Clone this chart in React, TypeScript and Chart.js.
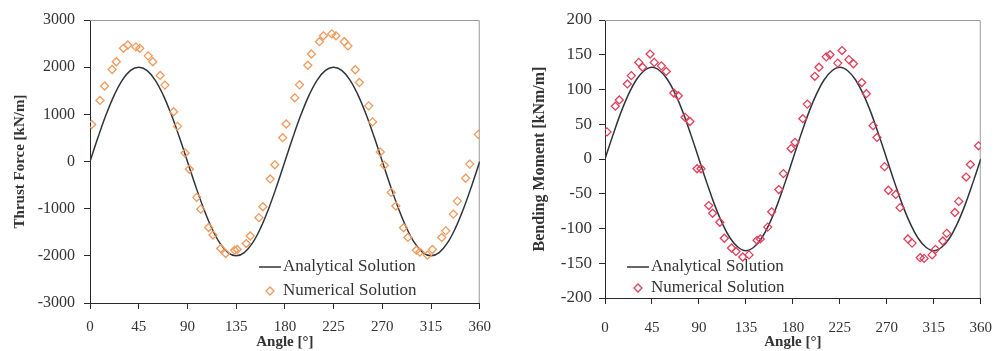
import React, { useEffect, useRef } from "react";
import { Chart, registerables } from "chart.js";

Chart.register(...registerables);

const serif = "'Liberation Serif', 'Times New Roman', serif";

// Analytical curve sample angles (degrees)
const analyticAngles = [
  0, 7.5, 15, 22.5, 30, 37.5, 45, 52.5, 60, 67.5, 75, 82.5, 90, 97.5, 105, 112.5, 120, 127.5, 135, 142.5,
  150, 157.5, 165, 172.5, 180, 187.5, 195, 202.5, 210, 217.5, 225, 232.5, 240, 247.5, 255, 262.5, 270, 277.5,
  285, 292.5, 300, 307.5, 315, 322.5, 330, 337.5, 345, 352.5, 360,
];

// Thrust force, analytical [kN/m]
const thrustAnalytical = [
  0, 518, 1000, 1414, 1732, 1932, 2000, 1932, 1732, 1414, 1000, 518, 0, -518, -1000, -1414, -1732, -1932, -2000,
  -1932, -1732, -1414, -1000, -518, 0, 518, 1000, 1414, 1732, 1932, 2000, 1932, 1732, 1414, 1000, 518, 0, -518,
  -1000, -1414, -1732, -1932, -2000, -1932, -1732, -1414, -1000, -518, 0,
];

// Bending moment, analytical [kNm/m]
const momentAnalytical = [
  0, 34, 66, 93, 114, 127, 132, 127, 114, 93, 66, 34, 0, -34, -66, -93, -114, -127, -132, -127, -114, -93, -66,
  -34, 0, 34, 66, 93, 114, 127, 132, 127, 114, 93, 66, 34, 0, -34, -66, -93, -114, -127, -132, -127, -114, -93,
  -66, -34, 0,
];

// Thrust force, numerical
const thrustNumAngles = [
  1.5, 9.2, 13.5, 20.5, 24.3, 30.9, 35.0, 42.4, 46.0, 53.7, 58.0, 64.8, 69.2, 77.2, 80.8, 87.8, 91.8, 98.6, 102.3,
  109.6, 113.6, 120.7, 125.3, 133.6, 136.0, 144.3, 148.0, 156.0, 159.7, 166.4, 170.7, 178.0, 181.2, 189.2, 193.5,
  201.2, 204.5, 211.9, 215.6, 223.3, 227.2, 234.9, 238.3, 245.0, 248.8, 257.4, 261.0, 268.1, 271.8, 278.2, 282.5,
  289.6, 293.6, 301.5, 304.7, 311.7, 316.3, 324.9, 328.6, 335.6, 339.3, 347.0, 350.7, 358.7,
];
const thrustNumValues = [
  785, 1295, 1600, 1950, 2115, 2400, 2470, 2430, 2400, 2240, 2115, 1825, 1620, 1055, 745, 180, -165, -760, -1010,
  -1400, -1560, -1845, -1950, -1880, -1865, -1740, -1580, -1190, -960, -370, -70, 505, 795, 1350, 1625, 2040,
  2280, 2540, 2665, 2705, 2665, 2540, 2450, 1945, 1675, 1180, 840, 200, -80, -655, -945, -1405, -1610, -1880,
  -1920, -1985, -1865, -1610, -1470, -1115, -840, -355, -55, 575,
];

// Bending moment, numerical
const momentNumAngles = [
  1.9, 9.9, 13.7, 21.4, 25.2, 32.3, 36.0, 43.2, 47.2, 54.0, 58.7, 65.9, 70.2, 76.7, 81.4, 88.2, 92.0, 99.4, 103.1,
  110.0, 114.3, 121.2, 125.5, 132.0, 138.0, 145.7, 148.8, 155.9, 159.7, 166.5, 170.9, 178.3, 182.0, 189.5, 193.8,
  201.0, 205.0, 211.9, 215.6, 223.0, 227.1, 233.6, 238.0, 246.0, 250.4, 256.9, 260.6, 267.8, 271.5, 278.6, 282.7,
  290.2, 294.2, 302.0, 305.7, 313.4, 316.6, 323.7, 327.4, 335.2, 338.9, 346.0, 350.1, 357.9,
];
const momentNumValues = [
  39, 76, 85, 108, 120, 139, 132, 151, 139, 134, 126, 95, 91, 60, 54, -14, -14, -67, -78, -91, -114, -128, -133,
  -141, -138, -117, -115, -98, -76, -44, -21, 15, 24, 58, 79, 119, 132, 147, 150, 138, 156, 143, 137, 110, 94, 48,
  31, -11, -45, -51, -70, -115, -121, -142, -143, -138, -130, -118, -107, -77, -61, -26, -8, 19,
];

const xTickLabels = [0, 45, 90, 135, 180, 225, 270, 315, 360];

type Panel = {
  width: number;
  height: number;
  area: { left: number; right: number; top: number; bottom: number };
  yMin: number;
  yMax: number;
  yStep: number;
  yTitle: string;
  yTitleSize: number;
  yTitlePad: number;
  yTickSize: number;
  yTickPad: number;
  xTickPad: number;
  analytical: number[];
  numAngles: number[];
  numValues: number[];
  color: string;
  legend: { x: number; len: number; y1: number; y2: number };
};

function makeConfig(p: Panel): any {
  const axisColor = "#2a2a2a";
  const textColor = "#333";
  const frame = {
    id: "frame",
    beforeDatasetsDraw(chart: any) {
      const { ctx, chartArea: a } = chart;
      ctx.save();
      ctx.strokeStyle = "#9a9a9a";
      ctx.lineWidth = 1;
      ctx.beginPath();
      ctx.moveTo(a.left, a.top + 0.5);
      ctx.lineTo(a.right - 0.5, a.top + 0.5);
      ctx.lineTo(a.right - 0.5, a.bottom);
      ctx.stroke();
      ctx.restore();
    },
  };
  const legend = {
    id: "panelLegend",
    afterDraw(chart: any) {
      const { ctx } = chart;
      const ds = chart.data.datasets;
      const L = p.legend;
      ctx.save();
      ctx.font = `17px ${serif}`;
      ctx.fillStyle = textColor;
      ctx.textBaseline = "middle";
      ctx.textAlign = "left";
      ctx.strokeStyle = "#2f343b";
      ctx.lineWidth = 1.5;
      ctx.beginPath();
      ctx.moveTo(L.x, L.y1);
      ctx.lineTo(L.x + L.len, L.y1);
      ctx.stroke();
      ctx.fillText(ds[0].label, L.x + L.len + 2, L.y1);
      const cx = L.x + L.len / 2;
      ctx.strokeStyle = p.color;
      ctx.lineWidth = 1.3;
      ctx.beginPath();
      ctx.moveTo(cx, L.y2 - 4);
      ctx.lineTo(cx + 4, L.y2);
      ctx.lineTo(cx, L.y2 + 4);
      ctx.lineTo(cx - 4, L.y2);
      ctx.closePath();
      ctx.stroke();
      ctx.fillText(ds[1].label, L.x + L.len + 2, L.y2);
      ctx.restore();
    },
  };
  return {
    type: "scatter",
    data: {
      datasets: [
        {
          label: "Analytical Solution",
          data: analyticAngles.map((a, i) => ({ x: a, y: p.analytical[i] })),
          showLine: true,
          borderColor: "#2f343b",
          borderWidth: 1.5,
          pointRadius: 0,
          tension: 0.4,
          order: 1,
        },
        {
          label: "Numerical Solution",
          data: p.numAngles.map((a, i) => ({ x: a, y: p.numValues[i] })),
          showLine: false,
          pointStyle: "rectRot",
          pointRadius: 4,
          borderColor: p.color,
          backgroundColor: "rgba(255,255,255,0)",
          borderWidth: 1.3,
          order: 0,
        },
      ],
    },
    options: {
      responsive: false,
      animation: false,
      layout: { padding: { left: 0, top: p.area.top, right: p.width - p.area.right, bottom: 0 } },
      plugins: { legend: { display: false }, tooltip: { enabled: false } },
      scales: {
        x: {
          type: "linear",
          position: "bottom",
          min: xTickLabels[0],
          max: xTickLabels[xTickLabels.length - 1],
          afterBuildTicks: (s: any) => {
            s.ticks = xTickLabels.map((v) => ({ value: v }));
          },
          ticks: {
            font: { family: serif, size: 15 },
            color: textColor,
            padding: p.xTickPad,
            maxRotation: 0,
            autoSkip: false,
            callback: (v: any) => String(v),
          },
          grid: { drawOnChartArea: false, drawTicks: true, tickLength: 6, color: axisColor },
          border: { display: true, color: axisColor, width: 1 },
          title: {
            display: true,
            text: "Angle [°]",
            font: { family: serif, size: 15, weight: "bold" },
            color: textColor,
            padding: { top: 0, bottom: 0 },
          },
          afterFit: (s: any) => {
            s.height = p.height - p.area.bottom;
          },
        },
        y: {
          type: "linear",
          position: "left",
          min: p.yMin,
          max: p.yMax,
          ticks: {
            stepSize: p.yStep,
            font: { family: serif, size: p.yTickSize },
            color: textColor,
            padding: p.yTickPad,
            callback: (v: any) => String(v),
          },
          grid: { drawOnChartArea: false, drawTicks: true, tickLength: 6, color: axisColor },
          border: { display: true, color: axisColor, width: 1 },
          title: {
            display: true,
            text: p.yTitle,
            font: { family: serif, size: p.yTitleSize, weight: "bold" },
            color: textColor,
            padding: { top: p.yTitlePad, bottom: 0 },
          },
          afterFit: (s: any) => {
            s.width = p.area.left;
          },
        },
      },
    },
    plugins: [frame, legend],
  };
}

const leftPanel: Panel = {
  width: 500,
  height: 351,
  area: { left: 90, right: 481, top: 20, bottom: 303 },
  yMin: -3000,
  yMax: 3000,
  yStep: 1000,
  yTitle: "Thrust Force [kN/m]",
  yTitleSize: 15,
  yTitlePad: 11,
  yTickSize: 16,
  yTickPad: 9,
  xTickPad: 9,
  analytical: thrustAnalytical,
  numAngles: thrustNumAngles,
  numValues: thrustNumValues,
  color: "#ef9a5c",
  legend: { x: 259, len: 22, y1: 267, y2: 291 },
};

const rightPanel: Panel = {
  width: 507,
  height: 351,
  area: { left: 105, right: 492, top: 20, bottom: 298 },
  yMin: -200,
  yMax: 200,
  yStep: 50,
  yTitle: "Bending Moment [kNm/m]",
  yTitleSize: 16,
  yTitlePad: 30,
  yTickSize: 17,
  yTickPad: 7,
  xTickPad: 15,
  analytical: momentAnalytical,
  numAngles: momentNumAngles,
  numValues: momentNumValues,
  color: "#e0405a",
  legend: { x: 127, len: 22, y1: 267, y2: 288 },
};

function PanelChart({ panel }: { panel: Panel }) {
  const ref = useRef<HTMLCanvasElement>(null);
  useEffect(() => {
    const chart = new Chart(ref.current as HTMLCanvasElement, makeConfig(panel));
    return () => chart.destroy();
  }, [panel]);
  return (
    <canvas
      ref={ref}
      width={panel.width}
      height={panel.height}
      style={{ display: "block", width: panel.width, height: panel.height }}
    />
  );
}

export default function App() {
  return (
    <div
      style={{
        position: "fixed",
        left: 0,
        top: 0,
        width: 1007,
        height: 351,
        display: "flex",
        background: "#fff",
      }}
    >
      <PanelChart panel={leftPanel} />
      <PanelChart panel={rightPanel} />
    </div>
  );
}
